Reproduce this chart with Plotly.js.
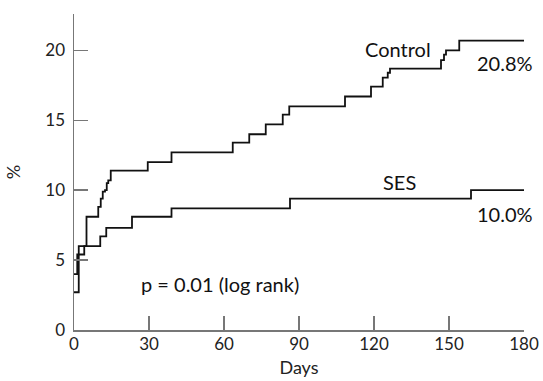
<!DOCTYPE html>
<html>
<head>
<meta charset="utf-8">
<script src="https://cdn.plot.ly/plotly-3.0.1.min.js"></script>
<style>html,body{margin:0;padding:0;background:#fff;}#chart{width:543px;height:381px;}</style>
</head>
<body>
<div id="chart"></div>
<script>
// Control group: event days and cumulative %
var controlDays = [0, 1.9, 5.0, 9.7, 10.7, 11.5, 12.4, 13.1, 13.7, 14.7, 29.5, 39, 63.5, 70.1, 76.7, 83.5, 86.1, 108.4, 118.8, 123.5, 125.5, 126.4, 146.8, 148, 148.8, 154.1, 180];
var controlPct  = [2.7, 6.0, 8.1, 8.8, 9.4, 9.9, 10.0, 10.5, 10.7, 11.4, 12.0, 12.7, 13.4, 14.0, 14.7, 15.4, 16.0, 16.7, 17.4, 18.05, 18.4, 18.7, 19.3, 19.7, 20.0, 20.7, 20.7];
// SES group
var sesDays = [0, 1.3, 4.1, 10.5, 12.9, 23.2, 39, 86.4, 158.8, 180];
var sesPct  = [4.0, 5.4, 6.0, 6.7, 7.3, 8.1, 8.7, 9.4, 10.0, 10.0];

var xTicks = [0, 30, 60, 90, 120, 150, 180];
var yTicks = [0, 5, 10, 15, 20];

var FONT = 'Lato, "Open Sans", sans-serif';

var traces = [
  {x: controlDays, y: controlPct, mode: 'lines', line: {shape: 'hv', color: '#111', width: 1.8}, hoverinfo: 'skip', showlegend: false},
  {x: sesDays, y: sesPct, mode: 'lines', line: {shape: 'hv', color: '#111', width: 1.8}, hoverinfo: 'skip', showlegend: false}
];

var layout = {
  width: 543, height: 381,
  margin: {l: 74, r: 19, t: 14, b: 51},
  paper_bgcolor: '#fff', plot_bgcolor: '#fff',
  font: {family: FONT, size: 17, color: '#222'},
  xaxis: {
    range: [0, 180], tickvals: xTicks, ticktext: xTicks.map(String),
    showgrid: false, zeroline: false, showline: true, linecolor: '#777', linewidth: 1.5,
    ticks: 'inside', ticklen: 14, tickwidth: 1.5, tickcolor: '#777',
    tickfont: {family: FONT, size: 17, color: '#222'},
    ticklabelstandoff: -2,
    title: {text: 'Days', font: {family: FONT, size: 18, color: '#222'}, standoff: 8}
  },
  yaxis: {
    range: [0, 22.6], tickvals: yTicks, ticktext: yTicks.map(String),
    showgrid: false, zeroline: false, showline: true, linecolor: '#777', linewidth: 1.5,
    ticks: 'inside', ticklen: 14, tickwidth: 1.5, tickcolor: '#777',
    tickfont: {family: FONT, size: 17, color: '#222'},
    ticklabelstandoff: 4,
    title: {text: '%', font: {family: FONT, size: 18, color: '#222'}, standoff: 20}
  },
  annotations: [
    {x: 129.6, y: 20.1, text: 'Control', showarrow: false, font: {family: FONT, size: 20, color: '#111'}},
    {x: 172.4, y: 19.1, text: '20.8%', showarrow: false, font: {family: FONT, size: 20, color: '#111'}},
    {x: 130, y: 10.6, text: 'SES', showarrow: false, font: {family: FONT, size: 20, color: '#111'}},
    {x: 172.4, y: 8.3, text: '10.0%', showarrow: false, font: {family: FONT, size: 20, color: '#111'}},
    {x: 58.4, y: 3.3, text: 'p = 0.01 (log rank)', showarrow: false, font: {family: FONT, size: 20, color: '#111'}}
  ]
};

Plotly.newPlot('chart', traces, layout, {displayModeBar: false, staticPlot: true});
</script>
</body>
</html>
